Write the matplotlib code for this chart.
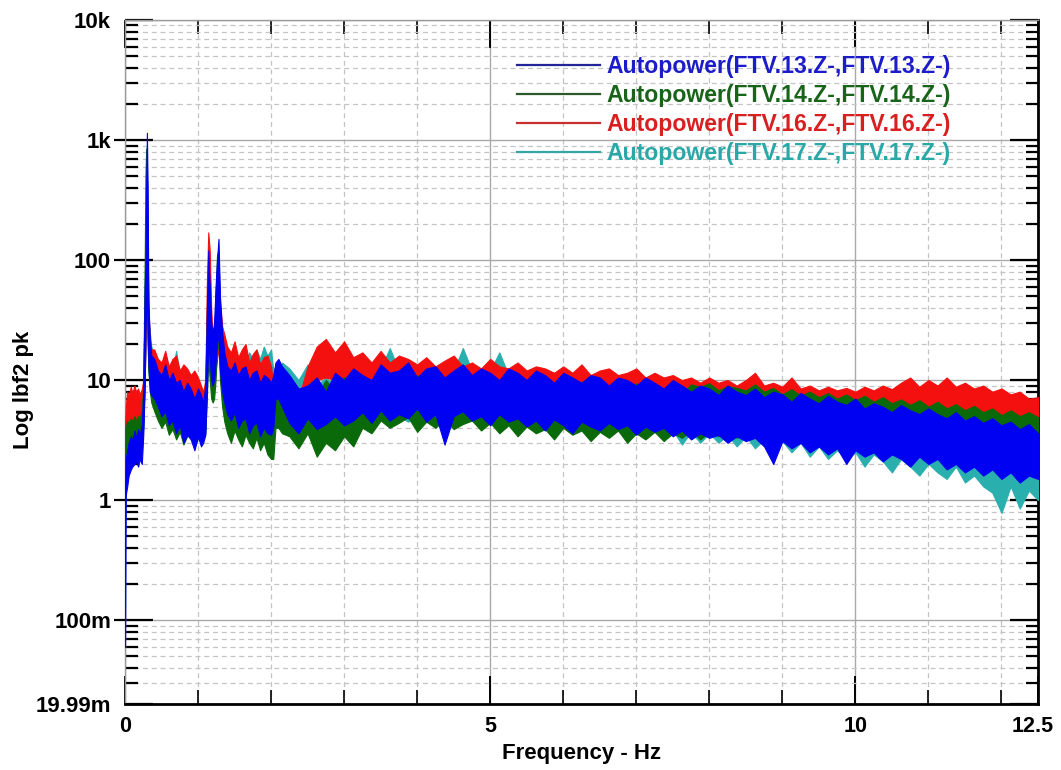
import numpy as np
import matplotlib
matplotlib.use("Agg")
import matplotlib.pyplot as plt
from matplotlib.lines import Line2D
from matplotlib.transforms import ScaledTranslation

# ---------------- data ----------------
freq_low = [0.0, 0.01, 0.03, 0.05, 0.08, 0.1, 0.13, 0.15, 0.18, 0.2, 0.23, 0.25, 0.27, 0.28,
            0.29, 0.3, 0.31, 0.32, 0.34, 0.36, 0.4, 0.45, 0.5, 0.55, 0.6, 0.65, 0.7, 0.75,
            0.8, 0.85, 0.9, 0.95, 1.0, 1.04, 1.07, 1.1, 1.12, 1.14, 1.16, 1.18, 1.2, 1.22,
            1.24, 1.26, 1.28, 1.3, 1.33, 1.36, 1.4, 1.45, 1.5, 1.55, 1.6, 1.65, 1.7, 1.75,
            1.8, 1.85, 1.9, 1.95, 2.0, 2.03, 2.06, 2.1, 2.15]
freq_high = np.round(np.arange(2.25, 12.5001, 0.125), 3)

# FTV.13 (blue): upper / lower envelope of the trace
blue_hi_low = [1.2, 2.2, 2.6, 3.0, 3.4, 3.1, 3.8, 3.3, 3.9, 3.5, 4.2, 8, 60, 90, 400, 1150, 400, 45,
               22, 16, 15, 12, 11, 13.5, 10, 11.5, 9.5, 10, 8, 9.5, 8.5, 7, 8.5, 7.5, 6.5, 9, 35,
               120, 60, 30, 25, 30, 60, 100, 150, 50, 25, 17, 13, 12, 14, 11, 12.5, 13, 10,
               11.5, 12, 9.5, 11, 10.5, 9.5, 11, 14, 15, 13]
blue_lo_low = [0.06, 1.1, 1.3, 1.6, 1.8, 1.9, 2.0, 2.1, 1.9, 2.2, 2.0, 3.5, 9, 25, 40, 60, 30, 14,
               8, 7.5, 7, 6, 5, 5.5, 4.2, 4.6, 3.6, 4.2, 3.0, 3.5, 3.2, 2.6, 3.4, 2.8, 3, 3.5,
               8, 20, 15, 10, 9, 10, 14, 20, 25, 12, 8, 6.5, 5.2, 4.6, 5.4, 4.0, 4.6, 4.8, 3.6,
               4.2, 4.4, 3.4, 4.0, 3.6, 3.5, 4, 7, 7, 6]
blue_hi_high = [11, 8.5, 9, 10.5, 8, 11.5, 10, 12.5, 11, 10,
                13.5, 11.5, 12, 14, 10.5, 12.5, 13, 10.5, 12, 13.5,
                11, 12.5, 11.5, 10, 12.5, 11.5, 10, 12, 11, 9.5,
                11.5, 10.5, 9.5, 11, 10.5, 9, 10.5, 10, 9, 10.5,
                9.5, 8.5, 10, 9, 8, 9, 8.5, 7.5, 9, 8,
                7.5, 8.5, 7.2, 8, 7.6, 6.6, 7.8, 7, 6.4, 7.4,
                6.6, 6.2, 7, 5.8, 6.4, 6, 5.4, 6.2, 5.6, 5.2,
                5.8, 5.2, 4.8, 5.4, 4.6, 5, 4.4, 4.8, 4.2, 4.5,
                3.9, 4.3, 3.6]
blue_lo_high = [4.4, 3.6, 4.8, 3.9, 4.3, 5, 4.2, 4.6, 5.4, 4.4,
                5.6, 4.6, 5.2, 4.8, 5.8, 4.5, 5.2, 2.9, 5, 5.5,
                4.6, 5, 4.2, 5.2, 4.5, 4.8, 4.1, 4.6, 3.8, 4.7,
                4.2, 3.6, 4.5, 4.1, 3.8, 4.4, 3.9, 4.2, 3.5, 4.1,
                3.7, 4, 3.4, 3.8, 3.2, 3.6, 3.3, 3.5, 3.0, 3.4,
                3.1, 3.3, 2.8, 2.0, 3.1, 2.7, 3.0, 2.5, 2.8, 2.4,
                2.7, 2.0, 2.6, 2.3, 2.5, 2.1, 2.4, 2.2, 1.9, 2.3,
                2.0, 2.2, 1.8, 2.0, 1.7, 1.9, 1.6, 1.8, 1.5, 1.7,
                1.4, 1.6, 1.5]

# FTV.14 (green)
green_hi_low = [2, 4, 4.6, 4.4, 4.8, 4.5, 5, 4.6, 5, 4.8, 5.5, 9, 100, 500, 850, 600, 120, 35, 18,
                14, 12, 11, 10, 10.5, 9, 9.5, 8.5, 8, 8.5, 7.5, 8, 7, 7.5, 6.5, 6, 8, 30, 90, 50,
                18, 12, 20, 50, 110, 120, 35, 16, 12, 11, 10, 10.5, 9.5, 10, 9, 9.5, 8.5, 9, 8,
                8.5, 8, 8.5, 8, 9, 10, 9]
green_lo_low = [0.8, 2.2, 2.8, 3, 3.2, 3.2, 3.4, 3.2, 3.5, 3.4, 3.3, 4, 10, 30, 50, 40, 20, 12, 8,
                6.5, 5.5, 4.6, 4.0, 4.5, 3.5, 3.9, 3.2, 3.7, 2.9, 3.4, 3.6, 2.8, 3.3, 3.0, 3.4, 3.6,
                7, 15, 10, 7, 6.5, 7, 10, 18, 20, 10, 6, 4.5, 3.6, 3.0, 3.8, 3.2, 2.8, 3.5, 3.0,
                2.7, 3.3, 2.6, 3.0, 2.4, 2.2, 2.2, 4, 4, 3.6]
green_hi_high = [8.5, 6.5, 9, 7.5, 10, 8, 10.5, 8.5, 11, 9,
                 11, 9, 11, 9, 11, 9, 11, 9, 10.5, 8.8,
                 10.5, 8.8, 10.5, 8.6, 10, 8.5, 10, 8.4, 10, 8.2,
                 9.8, 8.2, 9.6, 8, 9.5, 8, 9.5, 8, 9.4, 7.8,
                 9.4, 7.8, 9.2, 7.7, 9.2, 8.8, 9.4, 8.2, 8.9, 8.6,
                 8.2, 9.2, 8.0, 8.6, 7.6, 8.4, 7.4, 8.0, 7.2, 7.8,
                 7.0, 7.6, 6.8, 7.4, 6.6, 7.2, 6.4, 6.9, 6.2, 6.8,
                 6.0, 6.6, 5.8, 6.3, 5.6, 6.1, 5.4, 5.8, 5.1, 5.6,
                 5.0, 5.4, 4.9]
green_lo_high = [3.4, 2.7, 3.6, 2.3, 3.0, 2.6, 3.4, 2.8, 4.0, 3.6,
                 4.6, 4.0, 4.4, 4.9, 3.7, 4.5, 4.0, 4.7, 3.9, 4.3,
                 4.6, 3.8, 4.4, 3.6, 4.2, 3.4, 4.1, 3.6, 3.9, 3.2,
                 4.0, 3.5, 3.8, 3.1, 3.7, 3.3, 3.8, 3.0, 3.6, 3.2,
                 3.7, 3.1, 3.6, 3.3, 3.8, 3.2, 3.7, 3.4, 3.9, 3.3,
                 3.8, 3.5, 4.0, 3.4, 3.9, 3.6, 4.1, 3.5, 4.0, 3.6,
                 4.1, 3.5, 3.9, 3.6, 4.0, 3.5, 3.9, 3.4, 3.8, 3.5,
                 3.7, 3.3, 3.8, 3.2, 3.6, 3.3, 3.5, 3.1, 3.4, 3.0,
                 3.3, 2.9, 3.2]

# FTV.16 (red)
red_hi_low = [4, 6, 8, 7.5, 8.8, 7.8, 9, 8, 8.5, 7.6, 8.4, 10, 40, 80, 300, 500, 150, 40, 22, 18,
              18, 15, 14, 17.5, 13, 15, 16, 12, 13.5, 12.5, 11, 12, 10.5, 9, 8, 10, 60, 170,
              120, 40, 22, 28, 40, 60, 70, 45, 28, 24, 19, 17, 21, 15.5, 18, 20, 14, 16.5, 18,
              13.5, 15.5, 16, 13, 9, 9, 10, 9.5]
red_lo_low = [2, 3.5, 4.5, 4.6, 4.8, 4.5, 5, 4.6, 5, 4.8, 4.5, 5, 10, 20, 35, 40, 25, 14, 10, 9,
              8.5, 8, 7.5, 7, 6.5, 6.5, 6, 6, 5.8, 5.6, 5.5, 5.2, 5, 4.5, 4, 4.5, 12, 30, 20, 12,
              9, 10, 12, 15, 18, 14, 11, 10, 9.5, 9, 9, 8.8, 8.6, 8.5, 8.4, 8.2, 8, 8, 7.8, 7.5,
              7.5, 5, 4.5, 4.5, 4.5]
red_hi_high = [8.5, 7, 13, 19, 22, 17, 21, 15.5, 17, 14,
               17.5, 14, 16, 15, 13.5, 15.5, 13, 14.5, 16, 13,
               14, 12.5, 15, 13, 12.5, 14, 12, 13, 12.5, 11.5,
               13, 11.5, 13.5, 11, 12, 12.5, 11, 11.5, 12.5, 10.5,
               11.5, 10.5, 11, 10, 10.5, 9.5, 10.5, 9.5, 10, 9,
               10, 11.5, 9, 9.5, 8.8, 10.5, 8.5, 9, 8.2, 8.8,
               8.2, 8.6, 8, 8.8, 8.2, 9, 8.4, 9.5, 10.5, 8.8,
               10, 9, 10.5, 8.8, 9.5, 8.5, 9, 8, 8.5, 7.6,
               8, 7, 7.2]
red_lo_high = [4.5, 4.6, 6, 10, 10.5, 10, 10, 8, 7.5, 7.5,
               7.5, 7.2, 7.2, 7, 7, 7, 7, 6.8, 6.8, 6.6,
               6.6, 6.5, 6.5, 6.4, 6.4, 6.2, 6.2, 6, 6, 5.9,
               5.8, 5.8, 5.7, 5.6, 5.6, 5.5, 5.5, 5.4, 5.4, 5.3,
               5.2, 5.2, 5.1, 5, 5, 4.9, 4.8, 4.8, 4.7, 4.6,
               4.6, 4.5, 4.5, 4.4, 4.4, 4.4, 4.3, 4.3, 4.2, 4.2,
               4.2, 4.2, 4.2, 4.2, 4.3, 4.4, 4.5, 4.6, 4.6, 4.7,
               4.7, 4.8, 4.8, 4.7, 4.7, 4.6, 4.5, 4.4, 4.3, 4.2,
               4.1, 4, 4]

# FTV.17 (cyan)
cyan_hi_low = [1.5, 3.5, 4.5, 4.2, 5, 4.6, 5.2, 4.8, 5.5, 5, 6.5, 9, 50, 150, 300, 250, 80, 35, 25,
               19, 16, 14, 12, 13, 11.5, 12, 17.5, 11, 11.5, 10.5, 11, 10, 10, 8.5, 7.5, 9, 40,
               130, 70, 25, 18, 25, 50, 90, 110, 40, 24, 19, 17, 16, 18, 15, 16, 14.5, 17, 15, 18,
               15, 19, 16, 18, 12, 13, 12, 14]
cyan_lo_low = [0.5, 1.8, 2.4, 2.6, 2.8, 2.8, 3, 2.8, 3, 3, 3, 4, 10, 20, 30, 30, 20, 12, 9, 8, 7,
               6, 5.5, 5, 4.8, 4.6, 4.4, 4.2, 4, 3.8, 3.6, 3.5, 3.4, 3.5, 3.5, 4, 9, 20, 14, 9, 8,
               9, 12, 18, 20, 12, 9, 7, 6, 5.5, 5.5, 5.2, 5, 5, 4.8, 4.6, 4.6, 4.4, 4.4, 4.2, 4.2,
               4.5, 6, 6, 5.5]
cyan_hi_high = [12.5, 10, 13.5, 9, 10.5, 9, 12, 10, 13, 10,
                12.5, 18.5, 12, 10, 13, 10, 12.5, 11, 12, 18.5,
                12, 10, 12, 17, 11, 9.5, 11.5, 9.5, 11, 9,
                11, 8.8, 10.5, 9, 10.5, 8.5, 10, 8.2, 10, 8,
                9.8, 7.8, 9.5, 7.5, 9.2, 7.3, 9, 7, 8.7, 6.8,
                8.4, 6.6, 8.1, 6.3, 7.8, 6, 7.5, 5.8, 7.2, 5.6,
                6.9, 5.3, 6.6, 5.1, 6.3, 4.9, 6, 4.7, 5.7, 4.5,
                5.4, 4.3, 5.1, 4.1, 4.8, 3.9, 4.6, 3.7, 4.4, 3.5,
                4.2, 3.3, 4.0]
cyan_lo_high = [4, 3.5, 4, 3.5, 4, 3.5, 4, 3.5, 5, 4.5,
                5, 4.5, 5, 4.5, 5, 4.5, 5, 4.5, 5, 4.5,
                4.8, 4.2, 4.8, 4.2, 4.6, 4, 4.6, 4, 4.4, 3.8,
                4.4, 3.6, 4.2, 3.6, 4.2, 3.5, 4.0, 3.4, 4.0, 3.3,
                3.9, 3.2, 3.8, 2.9, 3.7, 3.0, 3.6, 3.0, 3.5, 2.8,
                3.4, 2.7, 3.2, 2.6, 3.1, 2.5, 3.0, 2.3, 2.8, 2.2,
                2.6, 2.2, 2.5, 1.9, 2.4, 2.1, 1.7, 2.2, 1.9, 1.6,
                2.0, 1.7, 1.5, 1.9, 1.4, 1.6, 1.3, 1.15, 0.78, 1.3,
                0.85, 1.2, 1.0]

labels = ["Autopower(FTV.13.Z-,FTV.13.Z-)", "Autopower(FTV.14.Z-,FTV.14.Z-)",
          "Autopower(FTV.16.Z-,FTV.16.Z-)", "Autopower(FTV.17.Z-,FTV.17.Z-)"]
ytick_vals = [0.01999, 0.1, 1, 10, 100, 1000, 10000]
ytick_labels = ["19.99m", "100m", "1", "10", "100", "1k", "10k"]
xtick_vals = [0, 5, 10, 12.5]
xtick_labels = ["0", "5", "10", "12.5"]

# ---------------- figure ----------------
freq = np.concatenate([np.array(freq_low), freq_high])
series = {
    "blue": (np.r_[blue_lo_low, blue_lo_high], np.r_[blue_hi_low, blue_hi_high]),
    "green": (np.r_[green_lo_low, green_lo_high], np.r_[green_hi_low, green_hi_high]),
    "red": (np.r_[red_lo_low, red_lo_high], np.r_[red_hi_low, red_hi_high]),
    "cyan": (np.r_[cyan_lo_low, cyan_lo_high], np.r_[cyan_hi_low, cyan_hi_high]),
}
trace_col = {"blue": "#0000F2", "green": "#0A6A0A", "red": "#F51010", "cyan": "#2AAFAF"}
hand_col = {"blue": "#23239A", "green": "#2A5A2A", "red": "#C83030", "cyan": "#35A5A5"}
text_col = {"blue": "#1C1CC8", "green": "#186418", "red": "#D82020", "cyan": "#2AA8A8"}
order_draw = ["cyan", "red", "green", "blue"]
order_leg = ["blue", "green", "red", "cyan"]

plt.rcParams["font.family"] = ["Liberation Sans", "DejaVu Sans"]
W, H = 1061, 770
fig = plt.figure(figsize=(W / 100, H / 100), dpi=100)
L, R, T, B = 125, 1038, 20, 704
pos = [L / W, (H - B) / H, (R - L) / W, (B - T) / H]
ax = fig.add_axes(pos)

for z, k in enumerate(order_draw):
    lo, hi = series[k]
    ax.fill_between(freq, lo, hi, color=trace_col[k], lw=0.8, edgecolor=trace_col[k], zorder=3 + z)

ax.set_yscale("log")
ax.set_xlim(0, 12.5)
ax.set_ylim(0.01999, 10000)

ax.set_yticks(ytick_vals)
ax.set_yticklabels(ytick_labels)
minor_y = [m * 10.0 ** e for e in range(-2, 4) for m in range(2, 10)]
minor_y = [v for v in minor_y if 0.021 < v < 10000]
ax.set_yticks(minor_y, minor=True)
ax.yaxis.set_minor_formatter(plt.NullFormatter())
ax.set_xticks(xtick_vals)
ax.set_xticklabels(xtick_labels)
ax.set_xticks([1, 2, 3, 4, 6, 7, 8, 9, 11, 12], minor=True)

ax.set_axisbelow(True)
ax.grid(which="major", color="#a9a9a9", lw=1.0, ls="-")
ax.grid(which="minor", color="#c4c4c4", lw=0.9, ls=(0, (4, 3)))

ax.tick_params(axis="both", which="both", direction="in", colors="black", top=True, right=True)
ax.tick_params(axis="y", which="major", length=20, width=1.6, pad=10, labelsize=16)
ax.tick_params(axis="y", which="minor", length=9, width=1.6)
ax.tick_params(axis="x", which="major", length=20, width=1.4, pad=9, labelsize=15.5)
ax.tick_params(axis="x", which="minor", length=10, width=1.2)
for lab in ax.get_xticklabels() + ax.get_yticklabels():
    lab.set_fontweight("bold")
last = ax.get_xticklabels()[-1]
last.set_transform(last.get_transform() + ScaledTranslation(-0.05, 0, fig.dpi_scale_trans))

for s in ("left", "top"):
    ax.spines[s].set_color("#9a9a9a")
    ax.spines[s].set_linewidth(1.0)
for s in ("bottom", "right"):
    ax.spines[s].set_color("black")
    ax.spines[s].set_linewidth(2.0)

# short outward ticks on the left at the labelled decades
ax_out = fig.add_axes(pos, frameon=False)
ax_out.set_yscale("log")
ax_out.set_ylim(0.01999, 10000)
ax_out.set_xticks([])
ax_out.set_yticks([0.1, 1, 10, 100, 1000])
ax_out.yaxis.set_minor_locator(plt.NullLocator())
ax_out.tick_params(axis="y", direction="out", length=8, width=1.6, labelleft=False)
ax_out.patch.set_visible(False)

ax.set_xlabel("Frequency - Hz", fontsize=16, fontweight="bold", labelpad=4)
fig.text(23 / W, 1 - 390 / H, "Log lbf2 pk", rotation=90, ha="center", va="center",
         fontsize=16, fontweight="bold")

handles = [Line2D([0], [0], color=hand_col[k], lw=1.6) for k in order_leg]
leg = ax.legend(handles, labels, loc="upper left",
                bbox_to_anchor=((517 - L) / (R - L), (B - 55) / (B - T)),
                frameon=False, borderpad=0, borderaxespad=0, handlelength=3.6,
                handletextpad=0.3, labelspacing=0.26,
                prop={"weight": "bold", "size": 16.6})
for txt, k in zip(leg.get_texts(), order_leg):
    txt.set_color(text_col[k])
leg.set_zorder(20)

fig.savefig("out.png", dpi=100)
